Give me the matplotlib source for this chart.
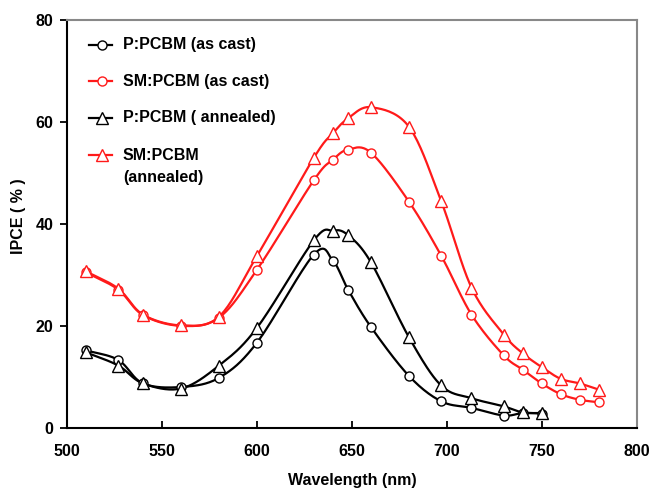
import numpy as np
import matplotlib
matplotlib.use("Agg")
import matplotlib.pyplot as plt

plt.rcParams['font.family'] = ['Liberation Sans', 'DejaVu Sans']
plt.rcParams['font.weight'] = 'bold'

# data
wl_p = [510, 527, 540, 560, 580, 600, 630, 640, 648, 660, 680, 697, 713, 730, 740, 750]
wl_sm = [510, 527, 540, 560, 580, 600, 630, 640, 648, 660, 680, 697, 713, 730, 740, 750, 760, 770, 780]

p_cast = [15.2, 13.3, 8.7, 8.0, 9.8, 16.7, 34.0, 32.8, 27.1, 19.8, 10.2, 5.2, 3.9, 2.4, 2.9, 2.8]
sm_cast = [30.5, 27.1, 22.1, 20.0, 21.6, 31.0, 48.6, 52.6, 54.6, 54.0, 44.4, 33.8, 22.2, 14.2, 11.4, 8.7, 6.6, 5.5, 5.0]
p_ann = [14.8, 12.2, 8.7, 7.7, 12.2, 19.6, 36.8, 38.7, 37.8, 32.5, 17.8, 8.3, 5.8, 4.2, 3.0, 2.9]
sm_ann = [30.7, 27.3, 22.2, 20.1, 21.8, 33.7, 53.0, 57.8, 60.7, 62.9, 59.1, 44.5, 27.5, 18.3, 14.6, 11.9, 9.6, 8.7, 7.5]

labels = ["P:PCBM (as cast)", "SM:PCBM (as cast)", "P:PCBM ( annealed)", "SM:PCBM\n(annealed)"]
RED = "#ff1a1a"
FS = 11.5


def smooth(x, y, n=20):
    # catmull-rom style smoothing, like a spreadsheet "smoothed line"
    x = np.asarray(x, float)
    y = np.asarray(y, float)
    px = np.concatenate([[2 * x[0] - x[1]], x, [2 * x[-1] - x[-2]]])
    py = np.concatenate([[2 * y[0] - y[1]], y, [2 * y[-1] - y[-2]]])
    xs, ys = [], []
    t = np.linspace(0, 1, n, endpoint=False)
    for i in range(1, len(px) - 2):
        for arr, out in ((px, xs), (py, ys)):
            p0, p1, p2, p3 = arr[i - 1], arr[i], arr[i + 1], arr[i + 2]
            out.extend(0.5 * ((2 * p1) + (-p0 + p2) * t
                              + (2 * p0 - 5 * p1 + 4 * p2 - p3) * t ** 2
                              + (-p0 + 3 * p1 - 3 * p2 + p3) * t ** 3))
    xs.append(x[-1])
    ys.append(y[-1])
    return xs, ys


fig = plt.figure(figsize=(6.51, 4.90), dpi=100)
ax = fig.add_axes([0.103, 0.127, 0.875, 0.832])

series = [
    (wl_p, p_cast, "black", "o", 6.5),
    (wl_sm, sm_cast, RED, "o", 6.5),
    (wl_p, p_ann, "black", "^", 8),
    (wl_sm, sm_ann, RED, "^", 8),
]

for x, y, c, m, ms in series:
    sx, sy = smooth(x, y)
    ax.plot(sx, sy, color=c, lw=1.6, zorder=2)
    ax.plot(x, y, ls="none", marker=m, ms=ms, mfc="white", mec=c, mew=1.0, zorder=3)

# legend drawn by hand so the two-line label lines up like the original
rows = [0.939, 0.850, 0.760, 0.669]
for (x, y, c, m, ms), lab, ry in zip(series, labels, rows):
    ax.plot([0.039, 0.079], [ry, ry], color=c, lw=1.6, transform=ax.transAxes, clip_on=False)
    ax.plot([0.061], [ry], ls="none", marker=m, ms=ms, mfc="white", mec=c, mew=1.0,
            transform=ax.transAxes, clip_on=False)
    for k, part in enumerate(lab.split("\n")):
        ax.text(0.098, ry - k * 0.056, part, transform=ax.transAxes, va="center",
                fontsize=FS, fontweight="bold")

ax.set_xlim(500, 800)
ax.set_ylim(0, 80)
ax.set_xticks(np.arange(500, 801, 50))
ax.set_yticks(np.arange(0, 81, 20))
ax.tick_params(axis="x", direction="in", length=5, width=1.3, pad=12, labelsize=FS)
ax.tick_params(axis="y", direction="out", length=5, width=1.3, pad=5, labelsize=FS)
for lab in ax.get_xticklabels() + ax.get_yticklabels():
    lab.set_fontweight("bold")

ax.spines["left"].set_linewidth(1.5)
ax.spines["bottom"].set_linewidth(1.5)
ax.spines["top"].set_color("#888888")
ax.spines["right"].set_color("#888888")
ax.spines["top"].set_linewidth(1.5)
ax.spines["right"].set_linewidth(1.5)

ax.set_xlabel("Wavelength (nm)", fontsize=FS, fontweight="bold")
ax.set_ylabel("IPCE ( % )", fontsize=FS, fontweight="bold")
ax.xaxis.set_label_coords(0.5, -0.11)
ax.yaxis.set_label_coords(-0.072, 0.52)

fig.savefig("out.png", dpi=100)
